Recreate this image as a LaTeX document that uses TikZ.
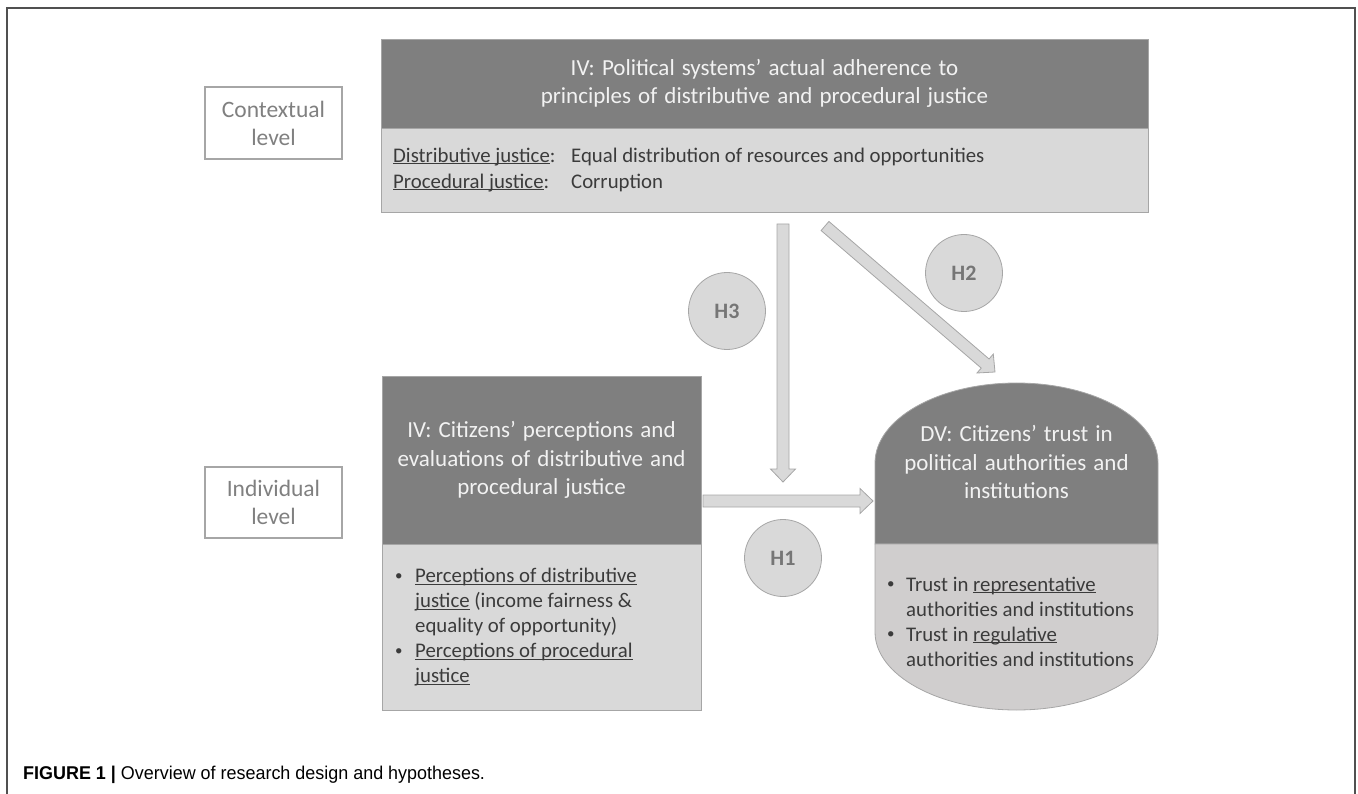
\documentclass[tikz,border=0pt]{standalone}
\usepackage{fontspec}
\usepackage{graphicx}
\setmainfont{Carlito}
\newfontfamily\capfont{Liberation Sans}
\usetikzlibrary{calc}

\definecolor{framegray}{HTML}{505050}
\definecolor{hdrgray}{HTML}{7F7F7F}
\definecolor{bodygray}{HTML}{D9D9D9}
\definecolor{dvbody}{HTML}{D0CECE}
\definecolor{edgegray}{HTML}{A6A6A6}
\definecolor{inkgray}{HTML}{3B3B3B}
\definecolor{levelgray}{HTML}{808080}
\definecolor{hgray}{HTML}{767676}
\definecolor{hdrtext}{HTML}{F2F2F2}

% underline sitting just below the baseline
\newcommand\undl[1]{\leavevmode\setbox0\hbox{#1}\rlap{\rule[-2.2pt]{\wd0}{0.9pt}}\box0\relax}

% small list bullet
\newcommand\smbullet{\raisebox{0.12em}{\scalebox{0.72}{\textbullet}}}

% block arrow from #1 to #2 (shaft half width 6pt, head half width 12.5pt, head length 13pt)
\newcommand\blockarrow[2]{%
  \coordinate (ba-c) at ($(#2)!13pt!(#1)$);
  \draw[blockarr] ($(#1)!6pt!90:(#2)$) -- ($(ba-c)!6pt!-90:(#1)$)
    -- ($(ba-c)!12.5pt!-90:(#1)$) -- (#2) -- ($(ba-c)!12.5pt!90:(#1)$)
    -- ($(ba-c)!6pt!90:(#1)$) -- ($(#1)!6pt!-90:(#2)$) -- cycle;}

\newcommand\widespaces{\spaceskip=0.31em plus 0.1em\relax}

\tikzset{
  levelbox/.style={draw=edgegray, line width=1.2pt, fill=white, text=levelgray,
    font=\fontsize{23.5}{28}\selectfont, align=center, inner sep=0pt},
  hdrbox/.style={fill=hdrgray, draw=edgegray, line width=0.8pt, text=hdrtext,
    font=\fontsize{23}{28.5}\selectfont\widespaces, align=center, inner sep=0pt},
  bodybox/.style={fill=bodygray, draw=edgegray, line width=0.8pt, inner sep=0pt},
  bodytext/.style={text=inkgray, font=\fontsize{20.8}{25}\selectfont,
    inner sep=0pt, align=left, anchor=west},
  hyp/.style={circle, fill=bodygray, draw=edgegray, line width=0.8pt,
    minimum size=77pt, inner sep=0pt, text=hgray,
    font=\bfseries\fontsize{22}{26}\selectfont},
  blockarr/.style={fill=bodygray, draw=edgegray, line width=0.8pt, line join=miter},
}

\begin{document}
\begin{tikzpicture}[x=1pt, y=-1pt]
\useasboundingbox (0,0) rectangle (1358,794);

% open frame
\draw[framegray, line width=1.6pt] (7,794) -- (7,8) -- (1355,8) -- (1355,794);

% level labels
\node[levelbox, minimum width=137pt, minimum height=72pt] (ctx) at (273.5,123) {Contextual\\level};
\node[levelbox, minimum width=137pt, minimum height=71pt] (ind) at (273.5,502.5) {Individual\\level};

% contextual independent variable
\node[hdrbox, minimum width=767pt, minimum height=89pt] (toph) at (764.5,83.5)
  {IV: Political systems’ actual adherence to\\principles of distributive and procedural justice};
\node[bodybox, minimum width=767pt, minimum height=84pt] (topb) at (764.5,170) {};
\node[bodytext, font=\fontsize{20.8}{26}\selectfont] (topt) at (393,170)
  {\begin{tabular}{@{}l@{}}
    \makebox[178pt][l]{\undl{Distributive justice}:}Equal distribution of resources and opportunities\\
    \makebox[178pt][l]{\undl{Procedural justice}:}Corruption
   \end{tabular}};

% individual independent variable
\node[hdrbox, minimum width=319pt, minimum height=168pt] (ivh) at (541.5,460)
  {IV: Citizens’ perceptions and\\evaluations of distributive and\\procedural justice};
\node[bodybox, minimum width=319pt, minimum height=166pt] (ivb) at (541.5,627) {};
\node[bodytext] (ivt) at (395,627.5)
  {\begin{tabular}{@{}l@{}l@{}}
    \makebox[20pt][l]{\smbullet} & \undl{Perceptions of distributive}\\
     & \undl{justice} (income fairness \&\\
     & equality of opportunity)\\
    \makebox[20pt][l]{\smbullet} & \undl{Perceptions of procedural}\\
     & \undl{justice}
   \end{tabular}};

% dependent variable
\path[fill=hdrgray, draw=edgegray, line width=0.8pt] (875,544) -- (875,463)
  arc[start angle=180, end angle=0, x radius=141.5pt, y radius=80pt] -- (1158,544) -- cycle;
\path[fill=dvbody, draw=edgegray, line width=0.8pt] (875,544) -- (875,632)
  arc[start angle=180, end angle=360, x radius=141.5pt, y radius=78pt] -- (1158,544) -- cycle;
\node[hdrbox, fill=none, draw=none] (dvh) at (1016.5,462)
  {DV: Citizens’ trust in\\political authorities and\\institutions};
\node[bodytext] (dvt) at (887,623.5)
  {\begin{tabular}{@{}l@{}l@{}}
    \makebox[19pt][l]{\smbullet} & Trust in \undl{representative}\\
     & authorities and institutions\\
    \makebox[19pt][l]{\smbullet} & Trust in \undl{regulative}\\
     & authorities and institutions
   \end{tabular}};

% arrow end points
\coordinate (h3a) at (783,224);
\coordinate (h3b) at (783,482);
\coordinate (h1a) at (703,501);
\coordinate (h1b) at (873,501);
\coordinate (h2a) at (825,226);
\coordinate (h2b) at (995,372);

\blockarrow{h3a}{h3b}
\blockarrow{h1a}{h1b}
\blockarrow{h2a}{h2b}

% hypotheses
\node[hyp] (H1) at (783,558) {H1};
\node[hyp] (H2) at (964,273) {H2};
\node[hyp] (H3) at (727,311) {H3};

% caption
\node[anchor=west, inner sep=0pt] (cap) at (23,775)
  {\capfont\fontsize{18.5}{22}\selectfont\scalebox{0.97}[1]{\textbf{FIGURE 1 |} Overview of research design and hypotheses.}};
\end{tikzpicture}
\end{document}
